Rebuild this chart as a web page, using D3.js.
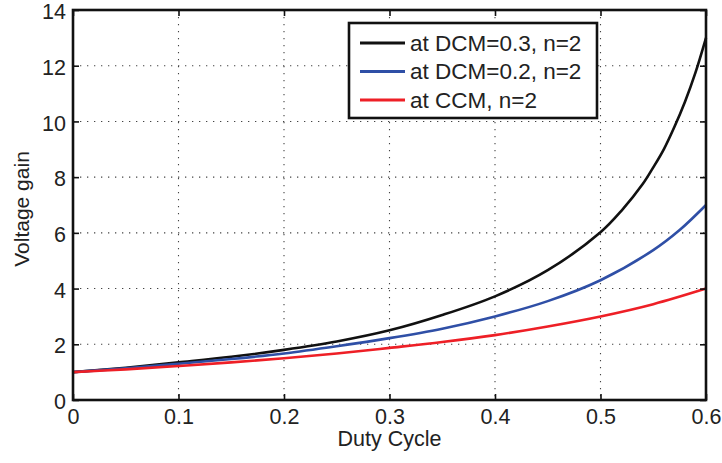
<!DOCTYPE html>
<html>
<head>
<meta charset="utf-8">
<script src="https://cdn.jsdelivr.net/npm/d3@7"></script>
<style>
  body { margin: 0; background: #fff; }
  text { font-family: "Liberation Sans", Arial, sans-serif; fill: #222; }
</style>
</head>
<body>
<div id="chart"></div>
<script>
// duty cycle samples
var dutyBlack = [0, 0.05, 0.1, 0.15, 0.2, 0.25, 0.3, 0.35, 0.4, 0.45, 0.5, 0.52, 0.54, 0.55, 0.56, 0.57, 0.58, 0.59, 0.6];
var dcm03 = [1, 1.16, 1.35, 1.55, 1.8, 2.1, 2.5, 3.05, 3.72, 4.66, 6.02, 6.8, 7.75, 8.35, 9.0, 9.8, 10.7, 11.75, 13.0];

var dutyBlue = [0, 0.05, 0.1, 0.15, 0.2, 0.25, 0.3, 0.35, 0.4, 0.45, 0.5, 0.55, 0.575, 0.6];
var dcm02 = [1, 1.14, 1.3, 1.47, 1.67, 1.93, 2.22, 2.56, 3.0, 3.55, 4.3, 5.38, 6.1, 7.0];

var dutyRed = [0, 0.05, 0.1, 0.15, 0.2, 0.25, 0.3, 0.35, 0.4, 0.45, 0.5, 0.55, 0.6];
var ccm = [1, 1.1, 1.22, 1.35, 1.5, 1.67, 1.87, 2.08, 2.33, 2.64, 3.0, 3.44, 4.0];

var xTicks = [0, 0.1, 0.2, 0.3, 0.4, 0.5, 0.6];
var yTicks = [0, 2, 4, 6, 8, 10, 12, 14];

var seriesNames = ["at DCM=0.3, n=2", "at DCM=0.2, n=2", "at CCM, n=2"];
var seriesColors = ["#111111", "#2f4fa6", "#ee1f26"];

function zip(xs, ys) {
    return xs.map(function(x, i) { return {d: x, v: ys[i]} });
}

var series = [
    zip(dutyBlack, dcm03),
    zip(dutyBlue, dcm02),
    zip(dutyRed, ccm)
];

var margin = {top: 10, right: 16, bottom: 63, left: 73};
var width = 722 - margin.left - margin.right;
var height = 463 - margin.top - margin.bottom;

var svg = d3.select("#chart")
    .append("svg")
    .attr("width", 722)
    .attr("height", 463)
    .append("g")
    .attr("transform", "translate(" + margin.left + "," + margin.top + ")");

var x = d3.scaleLinear().domain([0, 0.6]).range([0, width]);
var y = d3.scaleLinear().domain([0, 14]).range([height, 0]);

// dotted grid
svg.append("g")
    .selectAll("line")
    .data(xTicks.slice(1, -1))
    .enter().append("line")
    .attr("x1", function(d) { return x(d) })
    .attr("x2", function(d) { return x(d) })
    .attr("y1", 0)
    .attr("y2", height)
    .attr("stroke", "#444")
    .attr("stroke-width", 1.1)
    .attr("stroke-dasharray", "1.3,5.7");

svg.append("g")
    .selectAll("line")
    .data(yTicks.slice(1, -1))
    .enter().append("line")
    .attr("y1", function(d) { return y(d) })
    .attr("y2", function(d) { return y(d) })
    .attr("x1", 0)
    .attr("x2", width)
    .attr("stroke", "#444")
    .attr("stroke-width", 1.1)
    .attr("stroke-dasharray", "1.3,5.7");

var line = d3.line()
    .x(function(d) { return x(d.d) })
    .y(function(d) { return y(d.v) })
    .curve(d3.curveCatmullRom.alpha(0.5));

series.forEach(function(s, i) {
    svg.append("path")
        .datum(s)
        .attr("fill", "none")
        .attr("stroke", seriesColors[i])
        .attr("stroke-width", 2.6)
        .attr("d", line);
});

// axes with inward ticks on all sides
function styleAxis(g) {
    g.select(".domain").remove();
    g.selectAll(".tick line").attr("stroke", "#111").attr("stroke-width", 1.6);
    g.selectAll(".tick text")
        .style("font-family", "'Liberation Sans', Arial, sans-serif")
        .style("font-size", "21.5px")
        .attr("fill", "#222");
}

svg.append("g")
    .attr("transform", "translate(0," + height + ")")
    .call(d3.axisBottom(x).tickValues(xTicks).tickFormat(d3.format("")).tickSizeInner(-6).tickPadding(9))
    .call(styleAxis);

svg.append("g")
    .call(d3.axisLeft(y).tickValues(yTicks).tickSizeInner(-6).tickPadding(7))
    .call(styleAxis)
    .selectAll(".tick text").attr("dy", "0.4em");

svg.append("g")
    .call(d3.axisTop(x).tickValues(xTicks).tickSizeInner(-6).tickFormat(""))
    .call(styleAxis);

svg.append("g")
    .attr("transform", "translate(" + width + ",0)")
    .call(d3.axisRight(y).tickValues(yTicks).tickSizeInner(-6).tickFormat(""))
    .call(styleAxis);

svg.append("rect")
    .attr("x", 0)
    .attr("y", 0)
    .attr("width", width)
    .attr("height", height)
    .attr("fill", "none")
    .attr("stroke", "#111")
    .attr("stroke-width", 2.6);

svg.append("text")
    .attr("x", width / 2)
    .attr("y", height + 46)
    .style("text-anchor", "middle")
    .style("font-size", "21.5px")
    .text("Duty Cycle");

svg.append("text")
    .attr("transform", "rotate(-90)")
    .attr("x", -199)
    .attr("y", -44)
    .style("text-anchor", "middle")
    .style("font-size", "21px")
    .text("Voltage gain");

// legend
var legend = svg.append("g")
    .attr("transform", "translate(" + (349 - margin.left) + "," + (23 - margin.top) + ")");

legend.append("rect")
    .attr("width", 248)
    .attr("height", 95)
    .attr("fill", "#fff")
    .attr("stroke", "#111")
    .attr("stroke-width", 2.6);

var items = legend.selectAll(".item")
    .data(seriesNames)
    .enter().append("g")
    .attr("transform", function(d, i) { return "translate(0," + (20 + i * 28.5) + ")" });

items.append("line")
    .attr("x1", 11)
    .attr("x2", 56)
    .attr("stroke", function(d, i) { return seriesColors[i] })
    .attr("stroke-width", 3);

items.append("text")
    .attr("x", 61)
    .attr("dy", "0.35em")
    .style("font-size", "22.5px")
    .text(function(d) { return d });
</script>
</body>
</html>
